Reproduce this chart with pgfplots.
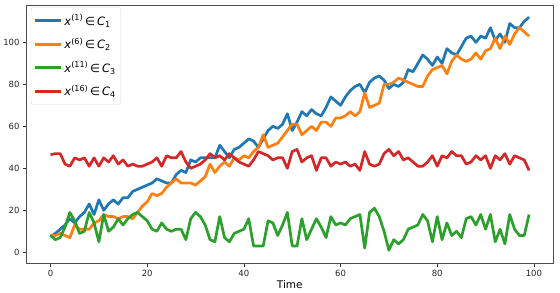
\documentclass[border=0pt]{standalone}
\usepackage{pgfplots}
\usepackage{pgfplotstable}
\pgfplotsset{compat=1.18}
\usepackage{fontspec}
\setmainfont{DejaVu Sans}

\definecolor{tabblue}{HTML}{1F77B4}
\definecolor{taborange}{HTML}{FF7F0E}
\definecolor{tabgreen}{HTML}{2CA02C}
\definecolor{tabred}{HTML}{D62728}

% t, x1 (C1), x6 (C2), x11 (C3), x16 (C4)
\pgfplotstableread{
t b o g r
0 7.5 8 8 46.5
1 9 8 6 47
2 11 9 7 47
3 13 8 12 42
4 16 7 19 41
5 14 13 15 45
6 17 11 9 44
7 19 11 10 45
8 23 11 19 41
9 18 14 14 45
10 25 15 5 41
11 20 18 18 45
12 23 17 10 43
13 25 17 12 46
14 23 16 16 42
15 26 17 13 44
16 26 17 16 41
17 29 16 18 42
18 30 19 19 41
19 31 22 17 41
20 32 24 15 42
21 33 28 11 43
22 35 27 10 45
23 34 28 14 41
24 33 31 11 46
25 33 33 10 45
26 37 35 11 45
27 39 33 11 48
28 38 33 6 43
29 44 33 16 40
30 43 32 19 41
31 45 34 17 42
32 45 36 13 44
33 45 42 6 47
34 45 38 5 45
35 51 41 17 46
36 48 43 7 44
37 45 41 5 47
38 49 45 9 45
39 50 44 10 43
40 52 46 11 42
41 54 45 16 41
42 53 48 3 44
43 50 50 3 48
44 54 56 3 47
45 58 50 15 46
46 60 51 14 44
47 59 52 8 45
48 61 55 13 45
49 66 58 19 40
50 58 61 3 48
51 62 61 3 49
52 67 56 16 43
53 65 58 6 45
54 68 60 11 46
55 66 58 16 39
56 65 62 12 45
57 69 62 7 45
58 74 60 17 41
59 72 64 13 43
60 70 64 14 42
61 74 65 13 43
62 77 67 16 41
63 79 65 17 42
64 80 67 18 39
65 76 76 2 48
66 81 69 19 42
67 83 70 21 41
68 84 71 17 42
69 82 80 10 47
70 78 80 1 49
71 80 81 6 46
72 79 83 4 48
73 81 82 6 44
74 87 81 11 45
75 86 80 12 43
76 90 79 13 41
77 94 79 18 41
78 92 84 15 43
79 89 87 5 46
80 93 88 17 41
81 90 89 6 46
82 97 85 14 45
83 95 91 8 48
84 94 94 10 46
85 98 92 7 46
86 102 91 16 42
87 103 92 17 43
88 100 95 13 46
89 103 92 18 44
90 102 96 11 46
91 107 97 18 40
92 101 102 5 46
93 104 97 11 44
94 100 103 4 47
95 109 99 18 42
96 107 104 11 46
97 107 107 8 45
98 110 105 8 44
99 112 103 18 39
}\series

\begin{document}
\begin{tikzpicture}
\begin{axis}[
  name=main,
  scale only axis,
  width=526pt, height=258pt,
  xmin=-4.95, xmax=103.95,
  ymin=-5.2, ymax=117.8,
  xtick={0,20,...,100},
  ytick={0,20,...,100},
  tick align=outside,
  tick pos=lower,
  major tick length=3.5pt,
  every tick/.style={black!80, line width=0.6pt},
  axis line style={black!70, line width=0.6pt},
  tick label style={font=\fontsize{8.5}{10}\selectfont, text=black!85},
  /pgf/number format/assume math mode=true,
  xlabel={Time},
  xlabel style={font=\fontsize{10.5}{12}\selectfont, yshift=3pt},
  legend cell align=left,
  legend style={font=\fontsize{11.5}{13}\selectfont, draw=black!15, fill=white, fill opacity=0.85, text opacity=1,
    rounded corners=2pt, row sep=7.5pt, inner xsep=3pt, inner ysep=5pt,
    at={(0.008,0.99)}, anchor=north west},
  legend image code/.code={\draw[#1, line width=2.7pt] (0cm,0cm) -- (0.9cm,0cm);},
  every axis plot/.append style={line width=2.7pt, line join=round},
]
\addplot[tabblue] table[x=t, y=b] {\series};
\addlegendentry{\textit{x}\textsuperscript{(1)}\,∈\,\textit{C}\textsubscript{1}}
\addplot[taborange] table[x=t, y=o] {\series};
\addlegendentry{\textit{x}\textsuperscript{(6)}\,∈\,\textit{C}\textsubscript{2}}
\addplot[tabgreen] table[x=t, y=g] {\series};
\addlegendentry{\textit{x}\textsuperscript{(11)}\,∈\,\textit{C}\textsubscript{3}}
\addplot[tabred] table[x=t, y=r] {\series};
\addlegendentry{\textit{x}\textsuperscript{(16)}\,∈\,\textit{C}\textsubscript{4}}
\end{axis}
\path ([shift={(7pt,5pt)}]main.north east);
\end{tikzpicture}
\end{document}
